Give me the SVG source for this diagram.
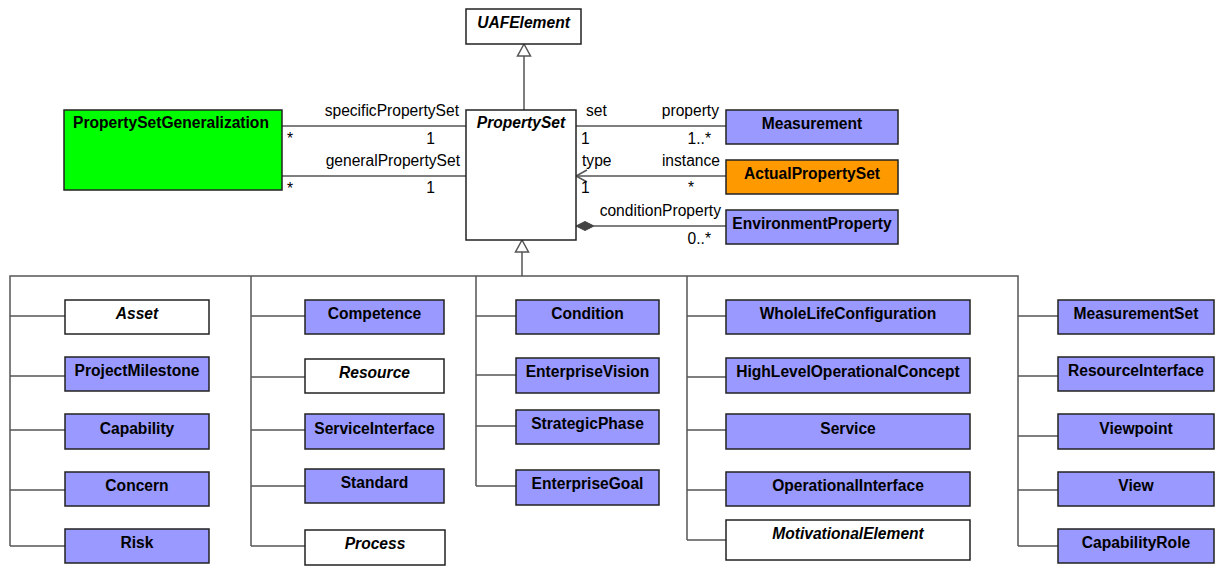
<svg xmlns="http://www.w3.org/2000/svg" width="1216" height="572" viewBox="0 0 1216 572">
<style>
.b{stroke:#222;stroke-width:1.5}
.w{fill:#fff}.p{fill:#9999ff}.g{fill:#00ff00}.o{fill:#ff9900}
text{font-family:"Liberation Sans",Arial,sans-serif;font-size:15.6px;fill:#000}
.t{font-weight:bold;text-anchor:middle}
.i{font-style:italic}
.e{text-anchor:end}
.c{stroke:#555;stroke-width:1.5;fill:none}
.tri{fill:#fff;stroke:#555;stroke-width:1.5}
</style>
<rect width="1216" height="572" fill="#fff"/>
<g id="connectors">
<line class="c" x1="524" y1="56" x2="524" y2="110"/>
<polygon class="tri" points="524,44 517.5,56 530.5,56"/>
<line class="c" x1="282" y1="126" x2="466" y2="126"/>
<line class="c" x1="282" y1="176" x2="466" y2="176"/>
<line class="c" x1="576" y1="126" x2="726" y2="126"/>
<line class="c" x1="576" y1="176" x2="726" y2="176"/>
<polyline class="c" points="587,170 576,176 587,182"/>
<line class="c" x1="594" y1="226" x2="726" y2="226"/>
<polygon points="576,226 585,221.5 594,226 585,230.5" fill="#444" stroke="#444" stroke-width="1"/>
<polygon class="tri" points="522,240 515.5,252 528.5,252"/>
<line class="c" x1="522" y1="252" x2="522" y2="276"/>
<polyline class="c" points="10,546 10,276 1018,276 1018,546"/>
<line class="c" x1="251" y1="276" x2="251" y2="546"/>
<line class="c" x1="476" y1="276" x2="476" y2="486"/>
<line class="c" x1="687" y1="276" x2="687" y2="540"/>
<line class="c" x1="10" y1="316" x2="65" y2="316"/>
<line class="c" x1="10" y1="376" x2="65" y2="376"/>
<line class="c" x1="10" y1="430" x2="65" y2="430"/>
<line class="c" x1="10" y1="490" x2="65" y2="490"/>
<line class="c" x1="10" y1="546" x2="65" y2="546"/>
<line class="c" x1="251" y1="316" x2="305" y2="316"/>
<line class="c" x1="251" y1="377" x2="305" y2="377"/>
<line class="c" x1="251" y1="430" x2="305" y2="430"/>
<line class="c" x1="251" y1="486" x2="305" y2="486"/>
<line class="c" x1="251" y1="546" x2="305" y2="546"/>
<line class="c" x1="476" y1="316" x2="516" y2="316"/>
<line class="c" x1="476" y1="375" x2="516" y2="375"/>
<line class="c" x1="476" y1="426" x2="516" y2="426"/>
<line class="c" x1="476" y1="486" x2="516" y2="486"/>
<line class="c" x1="687" y1="316" x2="726" y2="316"/>
<line class="c" x1="687" y1="377" x2="726" y2="377"/>
<line class="c" x1="687" y1="430" x2="726" y2="430"/>
<line class="c" x1="687" y1="490" x2="726" y2="490"/>
<line class="c" x1="687" y1="540" x2="726" y2="540"/>
<line class="c" x1="1018" y1="316" x2="1058" y2="316"/>
<line class="c" x1="1018" y1="376" x2="1058" y2="376"/>
<line class="c" x1="1018" y1="436" x2="1058" y2="436"/>
<line class="c" x1="1018" y1="490" x2="1058" y2="490"/>
<line class="c" x1="1018" y1="546" x2="1058" y2="546"/>
<text x="459" y="116" class="e">specificPropertySet</text>
<text x="435" y="144" class="e">1</text>
<text x="287" y="144">*</text>
<text x="460" y="166" class="e">generalPropertySet</text>
<text x="435" y="193" class="e">1</text>
<text x="287" y="194">*</text>
<text x="586" y="116">set</text>
<text x="719" y="116" class="e">property</text>
<text x="581" y="144">1</text>
<text x="711" y="144" class="e">1..*</text>
<text x="582" y="166">type</text>
<text x="720" y="166" class="e">instance</text>
<text x="581" y="193">1</text>
<text x="694" y="193" class="e">*</text>
<text x="721" y="216" class="e">conditionProperty</text>
<text x="711" y="244" class="e">0..*</text>
</g>
<g id="UAFElement"><rect class="b w" x="466" y="9" width="115" height="35"/><text class="t i" x="523.5" y="28">UAFElement</text></g>
<g id="PropertySet"><rect class="b w" x="466" y="110" width="110" height="130"/><text class="t i" x="521" y="128">PropertySet</text></g>
<g id="PropertySetGeneralization"><rect class="b g" x="64" y="110" width="218" height="80"/><text class="t" x="171" y="128">PropertySetGeneralization</text></g>
<g id="Measurement"><rect class="b p" x="726" y="110" width="172" height="34"/><text class="t" x="812" y="129">Measurement</text></g>
<g id="ActualPropertySet"><rect class="b o" x="726" y="160" width="172" height="34"/><text class="t" x="812" y="179">ActualPropertySet</text></g>
<g id="EnvironmentProperty"><rect class="b p" x="726" y="210" width="172" height="34"/><text class="t" x="812" y="229">EnvironmentProperty</text></g>
<g id="Asset"><rect class="b w" x="65" y="300" width="144" height="34"/><text class="t i" x="137" y="319">Asset</text></g>
<g id="ProjectMilestone"><rect class="b p" x="65" y="357" width="144" height="34"/><text class="t" x="137" y="376">ProjectMilestone</text></g>
<g id="Capability"><rect class="b p" x="65" y="414" width="144" height="35"/><text class="t" x="137" y="434">Capability</text></g>
<g id="Concern"><rect class="b p" x="65" y="472" width="144" height="34"/><text class="t" x="137" y="491">Concern</text></g>
<g id="Risk"><rect class="b p" x="65" y="529" width="144" height="34"/><text class="t" x="137" y="548">Risk</text></g>
<g id="Competence"><rect class="b p" x="305" y="300" width="139" height="34"/><text class="t" x="374.5" y="319">Competence</text></g>
<g id="Resource"><rect class="b w" x="305" y="359" width="139" height="34"/><text class="t i" x="374.5" y="378">Resource</text></g>
<g id="ServiceInterface"><rect class="b p" x="305" y="414" width="139" height="35"/><text class="t" x="374.5" y="434">ServiceInterface</text></g>
<g id="Standard"><rect class="b p" x="305" y="469" width="139" height="34"/><text class="t" x="374.5" y="488">Standard</text></g>
<g id="Process"><rect class="b w" x="305" y="530" width="140" height="35"/><text class="t i" x="375" y="549">Process</text></g>
<g id="Condition"><rect class="b p" x="516" y="300" width="143" height="34"/><text class="t" x="587.5" y="319">Condition</text></g>
<g id="EnterpriseVision"><rect class="b p" x="516" y="358" width="143" height="35"/><text class="t" x="587.5" y="377">EnterpriseVision</text></g>
<g id="StrategicPhase"><rect class="b p" x="516" y="410" width="143" height="34"/><text class="t" x="587.5" y="429">StrategicPhase</text></g>
<g id="EnterpriseGoal"><rect class="b p" x="516" y="470" width="143" height="35"/><text class="t" x="587.5" y="489">EnterpriseGoal</text></g>
<g id="WholeLifeConfiguration"><rect class="b p" x="726" y="300" width="244" height="34"/><text class="t" x="848" y="319">WholeLifeConfiguration</text></g>
<g id="HighLevelOperationalConcept"><rect class="b p" x="726" y="358" width="244" height="35"/><text class="t" x="848" y="377">HighLevelOperationalConcept</text></g>
<g id="Service"><rect class="b p" x="726" y="414" width="244" height="35"/><text class="t" x="848" y="434">Service</text></g>
<g id="OperationalInterface"><rect class="b p" x="726" y="472" width="244" height="34"/><text class="t" x="848" y="491">OperationalInterface</text></g>
<g id="MotivationalElement"><rect class="b w" x="726" y="520" width="244" height="40"/><text class="t i" x="848" y="539">MotivationalElement</text></g>
<g id="MeasurementSet"><rect class="b p" x="1058" y="300" width="156" height="34"/><text class="t" x="1136" y="319">MeasurementSet</text></g>
<g id="ResourceInterface"><rect class="b p" x="1058" y="357" width="156" height="34"/><text class="t" x="1136" y="376">ResourceInterface</text></g>
<g id="Viewpoint"><rect class="b p" x="1058" y="414" width="156" height="35"/><text class="t" x="1136" y="434">Viewpoint</text></g>
<g id="View"><rect class="b p" x="1058" y="472" width="156" height="34"/><text class="t" x="1136" y="491">View</text></g>
<g id="CapabilityRole"><rect class="b p" x="1058" y="529" width="156" height="34"/><text class="t" x="1136" y="548">CapabilityRole</text></g>
</svg>
